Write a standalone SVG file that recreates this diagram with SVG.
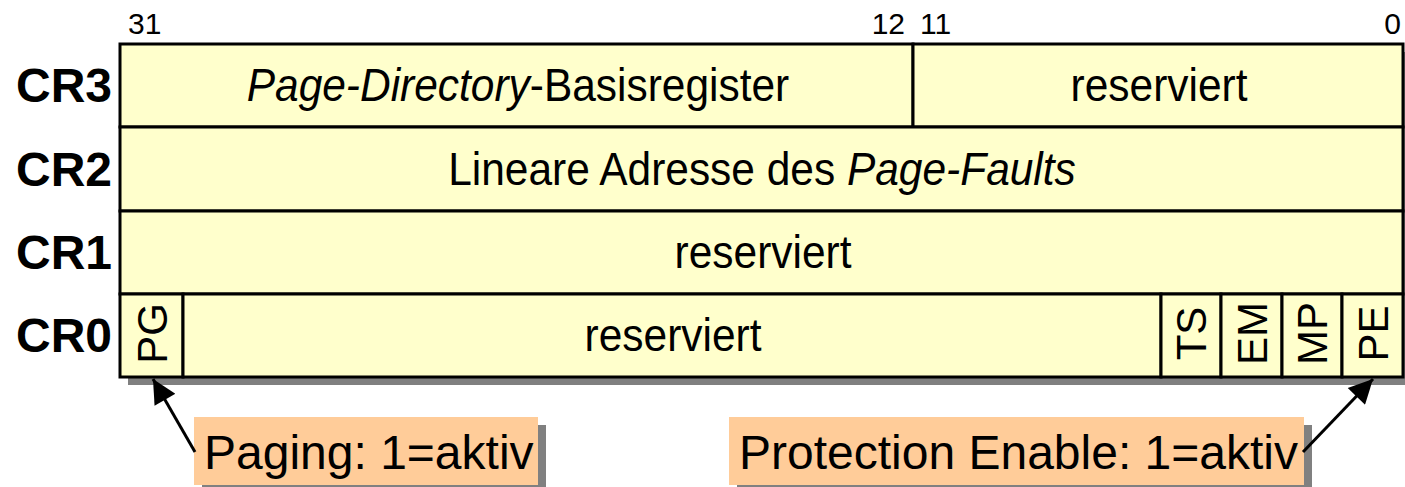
<svg xmlns="http://www.w3.org/2000/svg" width="1405" height="487" viewBox="0 0 1405 487">
  <defs>
    <style>
      .cell { fill: #FFFFCC; stroke: #000; stroke-width: 3; }
      .shadow { fill: #808080; }
      .note { fill: #FFCC99; }
      .t { font-family: "Liberation Sans", Arial, sans-serif; fill: #000; }
      .row { font-size: 46px; text-anchor: middle; }
      .reg { font-size: 48px; font-weight: bold; text-anchor: end; }
      .bit { font-size: 30px; }
      .flag { font-size: 42px; text-anchor: middle; }
      .lbl { font-size: 48px; }
      .conn { stroke: #000; stroke-width: 3; fill: none; }
    </style>
    <marker id="arrow" viewBox="0 0 10 10" refX="10" refY="5" markerWidth="9" markerHeight="8" markerUnits="strokeWidth" orient="auto">
      <path d="M0,0 L10,5 L0,10 z" fill="#000"/>
    </marker>
  </defs>
  <rect width="1405" height="487" fill="#fff"/>

  <!-- bit numbers -->
  <g id="bits">
    <text class="t bit" x="128" y="34">31</text>
    <text class="t bit" x="905" y="34" text-anchor="end">12</text>
    <text class="t bit" x="920" y="34">11</text>
    <text class="t bit" x="1401" y="34" text-anchor="end">0</text>
  </g>

  <!-- register names -->
  <g id="names">
    <text class="t reg" x="112" y="102">CR3</text>
    <text class="t reg" x="112" y="186">CR2</text>
    <text class="t reg" x="112" y="269">CR1</text>
    <text class="t reg" x="112" y="352">CR0</text>
  </g>

  <!-- drop shadow of the register block -->
  <rect class="shadow" x="128" y="52" width="1283" height="333"/>

  <!-- field texts are set slightly condensed (scale 0.923 in x) -->
  <g id="cr3">
    <rect class="cell" x="120" y="44" width="793" height="83"/>
    <rect class="cell" x="913" y="44" width="490" height="83"/>
    <text class="t row" transform="translate(518 101) scale(0.923 1)"><tspan font-style="italic">Page-Directory</tspan>-Basisregister</text>
    <text class="t row" transform="translate(1159 101) scale(0.923 1)">reserviert</text>
  </g>

  <g id="cr2">
    <rect class="cell" x="120" y="127" width="1283" height="84"/>
    <text class="t row" transform="translate(762 185) scale(0.923 1)">Lineare Adresse des <tspan font-style="italic">Page-Faults</tspan></text>
  </g>

  <g id="cr1">
    <rect class="cell" x="120" y="211" width="1283" height="83"/>
    <text class="t row" transform="translate(763 268) scale(0.923 1)">reserviert</text>
  </g>

  <g id="cr0">
    <rect class="cell" x="120" y="294" width="63" height="83"/>
    <rect class="cell" x="183" y="294" width="978" height="83"/>
    <rect class="cell" x="1161" y="294" width="60" height="83"/>
    <rect class="cell" x="1221" y="294" width="61" height="83"/>
    <rect class="cell" x="1282" y="294" width="60" height="83"/>
    <rect class="cell" x="1342" y="294" width="61" height="83"/>
    <text class="t row" transform="translate(673 351) scale(0.923 1)">reserviert</text>
    <text class="t flag" x="151.5" y="348.5" transform="rotate(-90 151.5 333.5)">PG</text>
    <text class="t flag" x="1191" y="348.5" transform="rotate(-90 1191 333.5)">TS</text>
    <text class="t flag" x="1251.5" y="348.5" transform="rotate(-90 1251.5 333.5)">EM</text>
    <text class="t flag" x="1312" y="348.5" transform="rotate(-90 1312 333.5)">MP</text>
    <text class="t flag" x="1372.5" y="348.5" transform="rotate(-90 1372.5 333.5)">PE</text>
  </g>

  <g id="note-pg">
    <rect class="shadow" x="202" y="425" width="344" height="68"/>
    <rect class="note" x="194" y="417" width="344" height="68"/>
    <text class="t lbl" x="204" y="469">Paging: 1=aktiv</text>
  </g>

  <g id="note-pe">
    <rect class="shadow" x="737" y="425" width="575" height="68"/>
    <rect class="note" x="729" y="417" width="575" height="68"/>
    <text class="t lbl" x="739" y="469">Protection Enable: 1=aktiv</text>
  </g>

  <g id="connectors">
    <line class="conn" x1="195" y1="452" x2="153" y2="379" marker-end="url(#arrow)"/>
    <line class="conn" x1="1303" y1="452" x2="1373" y2="379" marker-end="url(#arrow)"/>
  </g>
</svg>
